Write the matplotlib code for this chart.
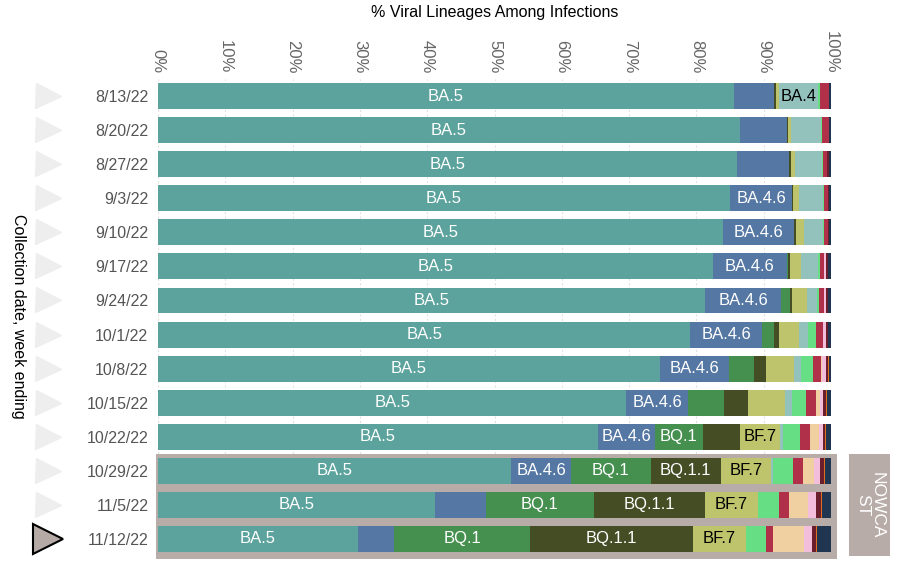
import matplotlib.pyplot as plt
import matplotlib.transforms as mtransforms
from matplotlib.patches import Rectangle
import numpy as np

plt.rcParams['font.family'] = ['Liberation Sans', 'DejaVu Sans']

dates = ['8/13/22', '8/20/22', '8/27/22', '9/3/22', '9/10/22', '9/17/22', '9/24/22',
         '10/1/22', '10/8/22', '10/15/22', '10/22/22', '10/29/22', '11/5/22', '11/12/22']

# shares (%) per lineage, one value per week (stack order left to right)
ba5 = [85.6, 86.4, 86.0, 85.0, 84.0, 82.4, 81.3, 79.1, 74.6, 69.6, 65.3, 52.5, 41.2, 29.7]
ba46 = [5.9, 7.0, 7.8, 9.2, 10.5, 11.0, 11.3, 10.6, 10.3, 9.1, 8.5, 8.9, 7.5, 5.4]
bq1 = [0, 0, 0, 0, 0, 0.2, 1.3, 1.8, 3.6, 5.4, 7.1, 11.8, 16.1, 20.2]
bq11 = [0.3, 0.2, 0.2, 0.15, 0.3, 0.3, 0.3, 0.8, 1.8, 3.5, 5.6, 10.4, 16.4, 24.2]
bf7 = [0.4, 0.4, 0.6, 0.9, 1.2, 1.6, 2.2, 3.0, 4.2, 5.5, 5.9, 7.5, 8.0, 7.8]
ba4 = [5.9, 4.5, 4.1, 3.5, 2.8, 2.6, 1.5, 1.2, 1.1, 1.1, 0.45, 0.2, 0, 0]
ba275 = [0.2, 0.15, 0.1, 0.15, 0.1, 0.3, 0.3, 1.2, 1.7, 2.1, 2.6, 3.0, 3.1, 3.0]
bn1 = [1.4, 1.0, 0.6, 0.6, 0.6, 0.6, 0.7, 1.1, 1.2, 1.5, 1.4, 1.5, 1.5, 1.1]
ba526 = [0, 0, 0, 0, 0, 0, 0, 0, 0.2, 0.5, 1.3, 1.7, 2.8, 4.6]
bf11 = [0, 0, 0, 0, 0, 0.2, 0.3, 0.4, 0.6, 0.5, 0.65, 0.8, 1.1, 1.2]
ba2752 = [0, 0, 0.3, 0.2, 0.2, 0.3, 0.3, 0.3, 0.3, 0.4, 0.3, 0.7, 0.75, 0.6]
ba2 = [0, 0, 0, 0, 0, 0, 0, 0.1, 0.1, 0.2, 0.2, 0.15, 0.15, 0.1]
xbb = [0.3, 0.35, 0.3, 0.3, 0.3, 0.5, 0.5, 0.4, 0.3, 0.6, 0.7, 0.9, 1.35, 2.1]

lineages = ['BA.5', 'BA.4.6', 'BQ.1', 'BQ.1.1', 'BF.7', 'BA.4', 'BA.2.75', 'BN.1',
            'BA.5.2.6', 'BF.11', 'BA.2.75.2', 'BA.2', 'XBB']
shares = [ba5, ba46, bq1, bq11, bf7, ba4, ba275, bn1, ba526, bf11, ba2752, ba2, xbb]
colors = ['#5ba39c', '#5577a3', '#46904f', '#454d25', '#bdc46c', '#93c2bd', '#66de84',
          '#b0304a', '#f0cfa0', '#f2bedb', '#6b1e2c', '#e07020', '#1f3550']
text_colors = ['white', 'white', 'white', 'white', 'black', 'black']
min_label = [8, 8.2, 6.5, 8, 5.8, 5.8]  # smallest share (%) that gets a label
nowcast_rows = 3

fig = plt.figure(figsize=(9, 5.65), dpi=100)
ax = fig.add_axes([0.1756, 0.016, 0.7478, 0.844])

y = np.arange(len(dates))
left = np.zeros(len(dates))
for i, (name, vals, col) in enumerate(zip(lineages, shares, colors)):
    vals = np.array(vals)
    ax.barh(y, vals, left=left, height=0.76, color=col, linewidth=0, zorder=3)
    if i < len(text_colors):
        for j in range(len(dates)):
            if vals[j] >= min_label[i]:
                ax.text(left[j] + vals[j] / 2, y[j], name, ha='center', va='center',
                        color=text_colors[i], fontsize=12, zorder=4)
    left += vals

n = len(dates)
# nowcast background and box
ax.add_patch(Rectangle((-0.3, n - nowcast_rows - 0.5), 101.2, nowcast_rows + 0.1,
                       facecolor='#b8aca8', edgecolor='none', zorder=2, clip_on=False))
ax.add_patch(Rectangle((102.7, n - nowcast_rows - 0.5), 6.1, nowcast_rows,
                       facecolor='#b8aca8', edgecolor='none', zorder=2, clip_on=False))
ax.text(105.75, n - nowcast_rows / 2 - 0.5, 'NOWCA\nST', rotation=-90, ha='center',
        va='center', color='white', fontsize=12.5, linespacing=1.0, clip_on=False)

ax.set_xlim(0, 100)
ax.set_ylim(n - 0.5, -0.5)
ax.set_yticks(y)
ax.set_yticklabels(dates, fontsize=11.5, color='#555555')
ax.tick_params(axis='y', length=0, pad=7)

ticks = np.arange(0, 101, 10)
ax.set_xticks(ticks)
ax.set_xticklabels([f'{t}%' for t in ticks])
ax.xaxis.set_ticks_position('top')
ax.tick_params(axis='x', length=0, pad=4, labelsize=12, labelcolor='#666666',
               labelrotation=-90)
ax.xaxis.set_label_position('top')
ax.set_xlabel('% Viral Lineages Among Infections', fontsize=11.5, labelpad=10,
              family=['Liberation Sans Narrow', 'Liberation Sans', 'DejaVu Sans'])
ax.grid(axis='x', color='#e2e2e2', linestyle=(0, (2, 2)), linewidth=0.8, zorder=0)
for s in ax.spines.values():
    s.set_visible(False)

# row triangles
trans = mtransforms.blended_transform_factory(ax.transAxes, ax.transData)
ax.plot([-0.163] * (n - 1), y[:-1], marker='>', linestyle='none', markersize=18,
        color='#eeeeee', transform=trans, clip_on=False)
ax.plot([-0.163], [y[-1]], marker='>', linestyle='none', markersize=21,
        markerfacecolor='#b5aaa5', markeredgecolor='black', markeredgewidth=1.5,
        transform=trans, clip_on=False)

fig.text(0.02, 0.44, 'Collection date, week ending', rotation=-90, ha='center',
         va='center', fontsize=11.5)

fig.savefig('out.png', dpi=100)
